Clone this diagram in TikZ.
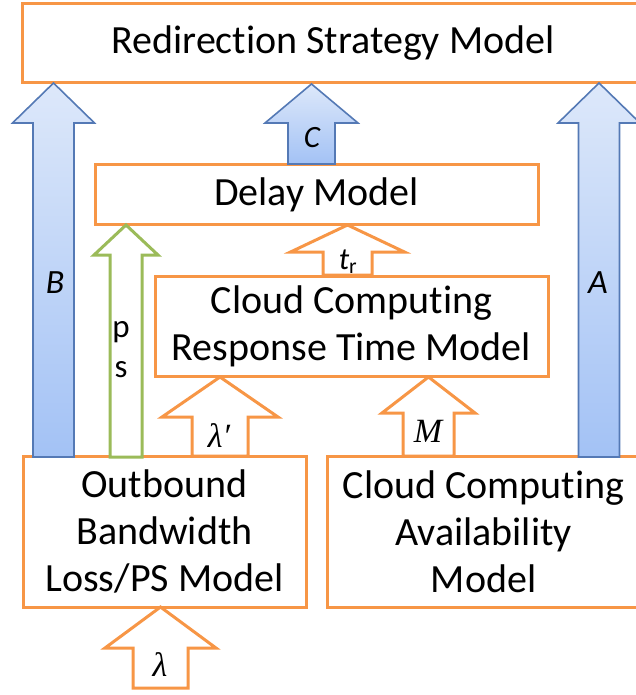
\documentclass[tikz,border=0pt]{standalone}
\usepackage{fontspec}
\setmainfont{Carlito}[Ligatures={NoCommon,NoRare}, Contextuals=NoAlternate]
\newfontfamily\symfont{Liberation Serif}
\usetikzlibrary{positioning}

\definecolor{boxorange}{HTML}{F79646}
\definecolor{arrowblue}{HTML}{5479B5}
\definecolor{bluetop}{HTML}{DDE8FA}
\definecolor{bluebottom}{HTML}{A3C2F5}
\definecolor{arrowgreen}{HTML}{9BBB59}

% block arrow pointing up: #1 style, #2 centre x, #3 bottom y, #4 tip y,
% #5 half shaft width, #6 half head width, #7 head length
\newcommand\upblock[7]{%
  \path[#1] ({#2-#5},#3) -- ({#2-#5},{#4+#7}) -- ({#2-#6},{#4+#7}) -- (#2,#4)
    -- ({#2+#6},{#4+#7}) -- ({#2+#5},{#4+#7}) -- ({#2+#5},#3) -- cycle;}

\tikzset{
  modelbox/.style={draw=boxorange, line width=3pt, fill=white, inner sep=0pt,
    font=\fontsize{40}{47}\selectfont, align=center},
  hollowarrow/.style={draw=boxorange, line width=3pt, fill=white, line join=miter},
  bluearrow/.style={draw=arrowblue, line width=1.6pt, top color=bluetop,
    bottom color=bluebottom, line join=miter},
  greenarrow/.style={draw=arrowgreen, line width=3pt, fill=white, line join=miter},
  arrowlabel/.style={inner sep=0pt, font=\fontsize{34}{36}\selectfont\itshape},
  greeklabel/.style={inner sep=0pt, font=\fontsize{34}{38}\selectfont\symfont\itshape},
}

\begin{document}
\begin{tikzpicture}[x=1pt, y=-1pt]
\useasboundingbox (0,0) rectangle (635,695);

% model boxes
\node[modelbox, minimum width=621pt, minimum height=79pt] (redirect) at (333,43.5)
  {Redirection Strategy Model};
\node[modelbox, minimum width=443pt, minimum height=59pt] (delay) at (316.5,194.5)
  {Delay Model};
\node[modelbox, minimum width=393pt, minimum height=100pt] (response) at (351.5,326)
  {Cloud Computing\\Response Time Model};
\node[modelbox, minimum width=283pt, minimum height=151pt] (outbound) at (164.5,531.5)
  {Outbound\\Bandwidth\\Loss/PS Model};
\node[modelbox, minimum width=313pt, minimum height=151pt] (avail) at (483.5,531.5)
  {Cloud Computing\\Availability\\Model};

% blue arrows into the redirection model
\upblock{bluearrow}{53.5}{457}{83}{20.5}{41}{40}
\upblock{bluearrow}{599}{457}{83}{20.5}{41}{40}
\upblock{bluearrow}{311.5}{164}{84}{23.5}{46.5}{39}

% green packet-loss arrow
\upblock{greenarrow}{126}{457}{225}{16}{32}{30}

% hollow orange arrows
\upblock{hollowarrow}{347.5}{275}{225}{24.5}{57}{27}
\upblock{hollowarrow}{220}{456}{377}{28}{58}{40}
\upblock{hollowarrow}{428.5}{456}{377}{25.5}{46.5}{36}
\upblock{hollowarrow}{160.5}{688}{607}{27.5}{55.5}{41}

% arrow labels
\node[arrowlabel] (lblB) at (55,283) {B};
\node[arrowlabel] (lblA) at (598,283) {A};
\node[arrowlabel, font=\fontsize{31}{34}\selectfont\itshape] (lblC) at (312,138) {C};
\node[inner sep=0pt, font=\fontsize{31}{34}\selectfont] (lbltr) at (348,262)
  {\textit{t}\textsubscript{r}};
\node[inner sep=0pt, font=\fontsize{33}{40}\selectfont, align=center] (lblps) at (121,350)
  {p\\s};
\node[greeklabel] (lbllam2) at (219,436) {λ′};
\node[greeklabel] (lblM) at (428,431) {M};
\node[greeklabel] (lbllam) at (160,665) {λ};
\end{tikzpicture}
\end{document}
